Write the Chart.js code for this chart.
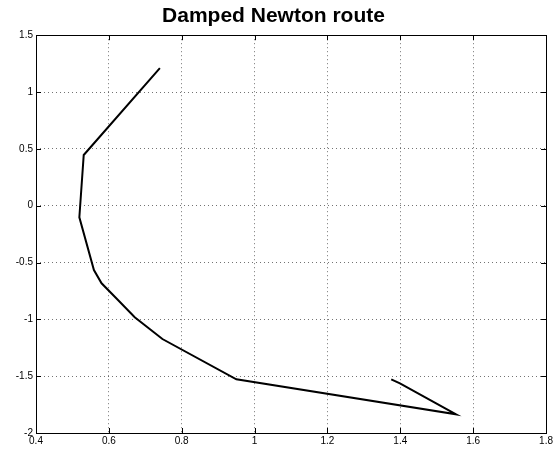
<!DOCTYPE html>
<html>
<head>
<meta charset="utf-8">
<script src="https://cdn.jsdelivr.net/npm/chart.js@4"></script>
<style>
html,body{margin:0;padding:0;background:#fff;}
#wrap{width:555px;height:450px;}
</style>
</head>
<body>
<div id="wrap"><canvas id="c" width="555" height="450"></canvas></div>
<script>
const routeX = [0.740, 0.531, 0.519, 0.559, 0.580, 0.625, 0.671, 0.747, 0.950, 1.553, 1.399, 1.375];
const routeY = [1.21, 0.446, -0.102, -0.566, -0.683, -0.83, -0.982, -1.173, -1.528, -1.836, -1.563, -1.528];
const xTicks = [0.4, 0.6, 0.8, 1, 1.2, 1.4, 1.6, 1.8];
const yTicks = [-2, -1.5, -1, -0.5, 0, 0.5, 1, 1.5];
const titleText = 'Damped Newton route';

const points = routeX.map((x, i) => ({x: x, y: routeY[i]}));

const boxPlugin = {
  id: 'box',
  afterDraw(chart) {
    const a = chart.chartArea, ctx = chart.ctx;
    ctx.save();
    ctx.strokeStyle = '#000';
    ctx.lineWidth = 1;
    ctx.strokeRect(Math.round(a.left) + 0.5, Math.round(a.top) + 0.5, Math.round(a.right - a.left), Math.round(a.bottom - a.top));
    const xs = chart.scales.x, ys = chart.scales.y;
    ctx.beginPath();
    xTicks.forEach(v => {
      const px = Math.round(xs.getPixelForValue(v)) + 0.5;
      ctx.moveTo(px, a.bottom); ctx.lineTo(px, a.bottom - 5);
      ctx.moveTo(px, a.top); ctx.lineTo(px, a.top + 5);
    });
    yTicks.forEach(v => {
      const py = Math.round(ys.getPixelForValue(v)) + 0.5;
      ctx.moveTo(a.left, py); ctx.lineTo(a.left + 5, py);
      ctx.moveTo(a.right, py); ctx.lineTo(a.right - 5, py);
    });
    ctx.stroke();
    ctx.restore();
  }
};

new Chart(document.getElementById('c'), {
  type: 'scatter',
  data: {
    datasets: [{
      data: points,
      showLine: true,
      borderColor: '#000',
      borderWidth: 2,
      pointRadius: 0,
      fill: false,
      tension: 0
    }]
  },
  options: {
    responsive: false,
    animation: false,
    layout: {padding: {left: 0, right: 8, top: 0, bottom: 0}},
    plugins: {
      legend: {display: false},
      tooltip: {enabled: false},
      title: {
        display: true,
        text: titleText,
        color: '#000',
        font: {family: 'Liberation Sans, Arial, sans-serif', size: 21, weight: 'bold'},
        padding: {top: 4, bottom: 6}
      }
    },
    scales: {
      x: {
        type: 'linear',
        min: 0.4, max: 1.8,
        afterBuildTicks(s) { s.ticks = xTicks.map(v => ({value: v})); },
        afterFit(s) { s.height = 17; },
        ticks: {
          color: '#000',
          padding: 2,
          maxRotation: 0,
          font: {family: 'Liberation Sans, Arial, sans-serif', size: 10},
          callback: v => String(Number(v.toFixed(1)))
        },
        grid: {color: 'rgba(0,0,0,0.55)', drawTicks: false, tickLength: 0, lineWidth: 1},
        border: {display: false, dash: [1, 3]}
      },
      y: {
        type: 'linear',
        min: -2, max: 1.5,
        afterBuildTicks(s) { s.ticks = yTicks.map(v => ({value: v})); },
        afterFit(s) { s.width = 36; },
        ticks: {
          color: '#000',
          padding: 3,
          font: {family: 'Liberation Sans, Arial, sans-serif', size: 10},
          callback: v => String(Number(v.toFixed(1)))
        },
        grid: {color: 'rgba(0,0,0,0.55)', drawTicks: false, tickLength: 0, lineWidth: 1},
        border: {display: false, dash: [1, 3]}
      }
    }
  },
  plugins: [boxPlugin]
});
</script>
</body>
</html>
